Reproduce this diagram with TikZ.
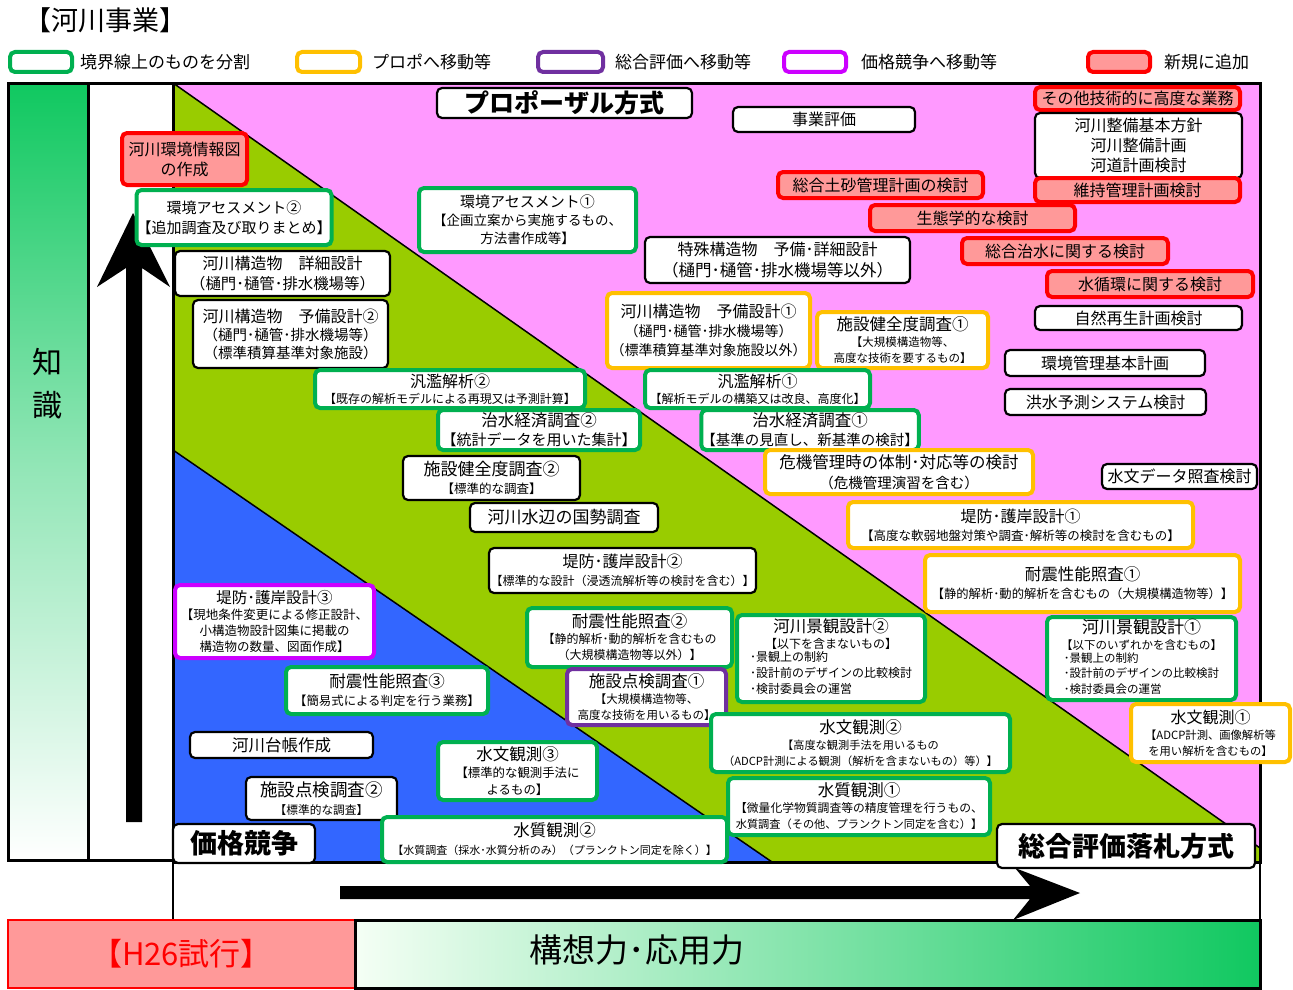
\documentclass[tikz,border=0pt]{standalone}
\usepackage{fontspec}
\setmainfont{Noto Sans CJK JP}
\definecolor{cpink}{RGB}{255,153,255}
\definecolor{cgreentri}{RGB}{153,204,0}
\definecolor{cblue}{RGB}{51,102,255}
\definecolor{cgreen}{RGB}{0,176,80}
\definecolor{corange}{RGB}{255,192,0}
\definecolor{cpurple}{RGB}{112,48,160}
\definecolor{cmag}{RGB}{204,0,255}
\definecolor{cred}{RGB}{255,0,0}
\definecolor{cpinkred}{RGB}{255,153,153}
\definecolor{kgreen}{RGB}{16,200,96}
\newcommand\fz[1]{\fontsize{#1}{#1}\selectfont}
\tikzset{
  wh/.style 2 args={minimum width=#1, minimum height=#2},
  bbox/.style={draw=black, line width=2.2pt, rounded corners=5pt, fill=white, inner sep=0pt, align=center,
    font=\fontsize{12}{16}\selectfont},
  gbox/.style={bbox, draw=cgreen, line width=4pt},
  obox/.style={bbox, draw=corange, line width=4pt},
  pbox/.style={bbox, draw=cpurple, line width=4pt},
  mbox/.style={bbox, draw=cmag, line width=4pt},
  rbox/.style={bbox, draw=cred, line width=4pt, fill=cpinkred},
  legtext/.style={anchor=west, inner sep=0pt, font=\fz{17}},
  frameline/.style={draw=black, line width=3pt},
}
\begin{document}
\begin{tikzpicture}[x=1pt,y=-1pt]
\useasboundingbox (0,0) rectangle (1293,990);
\fill[white] (0,0) rectangle (1293,990);
% title
\node[anchor=west, inner sep=0pt] (title) at (24,20) {\fz{27}【河川事業】};
% legend
\node[gbox, wh={62}{20}] (lg1) at (41,62) {};
\node[legtext] (lt1) at (80,62) {境界線上のものを分割};
\node[obox, wh={63}{20}] (lg2) at (328.5,62) {};
\node[legtext] (lt2) at (372,62) {プロポへ移動等};
\node[pbox, wh={65}{20}] (lg3) at (570.5,62) {};
\node[legtext] (lt3) at (615,62) {総合評価へ移動等};
\node[mbox, wh={62}{20}] (lg4) at (815,62) {};
\node[legtext] (lt4) at (861,62) {価格競争へ移動等};
\node[rbox, wh={62}{20}] (lg5) at (1119,62) {};
\node[legtext] (lt5) at (1164,62) {新規に追加};
% background regions
\fill[cpink] (173,83) rectangle (1260,862);
\fill[cgreentri] (173,83) -- (1260,848) -- (1260,862) -- (173,862) -- cycle;
\fill[cblue] (173,450) -- (772,862) -- (173,862) -- cycle;
\draw[line width=1.5pt] (173,83) -- (1260,848);
\draw[line width=1.5pt] (173,450) -- (772,862);
% left columns
\shade[top color=kgreen, bottom color=white, middle color=kgreen!45] (8,83) rectangle (88,860);
\draw[frameline] (8,83) rectangle (88,860);
\draw[frameline] (88,83) rectangle (173,860);
\draw[frameline] (8,83) -- (1260,83) -- (1260,862) -- (173,862);
\draw[frameline] (173,83) -- (173,862);
\node[inner sep=0pt] (chi) at (47,362) {\fz{30}知};
\node[inner sep=0pt] (shiki) at (47,405) {\fz{30}識};
% up arrow
\fill[black] (126,822) -- (126,268) -- (97,287) -- (133,213) -- (170,287) -- (142,268) -- (142,822) -- cycle;
% lower white strip
\draw[line width=2pt] (173,862) -- (173,920);
\draw[line width=2pt] (1260,862) -- (1260,920);
% right arrow
\fill[black] (340,886) -- (1030,886) -- (1015,868) -- (1080,893) -- (1013,920) -- (1030,899) -- (340,899) -- cycle;
% bottom bar
\node[draw=cred, line width=2pt, fill=cpinkred, wh={347}{68}, inner sep=0pt, text=cred] (h26) at (181.5,954) {\fz{31}【H26試行】};
\shade[left color=green!4, right color=kgreen] (355,920) rectangle (1260,988);
\draw[frameline] (355,920) rectangle (1260,988);
\node[inner sep=0pt] (koso) at (637,950) {\fz{33}構想力･応用力};

% boxes
\node[bbox, wh={255}{30}] (prop) at (564.5,103) {\fz{25}\bfseries プロポーザル方式};
\node[bbox, wh={182}{25}] (jigyo) at (824,119.5) {\fz{16}事業評価};
\node[rbox, wh={205}{23}] (sonota) at (1137.5,98.5) {\fz{16}その他技術的に高度な業務};
\node[bbox, wh={207}{65}, font=\fontsize{16}{20}\selectfont] (seibi) at (1138.5,145.5) {河川整備基本方針\\河川整備計画\\河道計画検討};
\node[rbox, wh={205}{24}] (iji) at (1137.5,190) {\fz{16}維持管理計画検討};
\node[rbox, wh={205}{26}] (dosha) at (880.5,185) {\fz{16}総合土砂管理計画の検討};
\node[rbox, wh={205}{26}] (seitai) at (972.5,218) {\fz{16}生態学的な検討};
\node[rbox, wh={206}{26}] (chisuik) at (1065,251) {\fz{16}総合治水に関する検討};
\node[rbox, wh={206}{26}] (junkan) at (1150,284) {\fz{16}水循環に関する検討};
\node[bbox, wh={207}{24}] (shizen) at (1138.5,318) {\fz{16}自然再生計画検討};
\node[bbox, wh={200}{26}] (kankyo) at (1105,363) {\fz{16}環境管理基本計画};
\node[bbox, wh={201}{26}] (kozui) at (1105.5,402) {\fz{16}洪水予測システム検討};
\node[bbox, wh={155}{25}] (suimond) at (1179.5,476.5) {\fz{16}水文データ照査検討};
\node[rbox, wh={125}{52}, font=\fontsize{16}{20}\selectfont] (johozu) at (184.5,159) {河川環境情報図\\の作成};
\node[gbox, wh={188}{55}, font=\fontsize{15}{20}\selectfont] (ea2) at (234,217.5) {環境アセスメント②\\【追加調査及び取りまとめ】};
\node[gbox, wh={217}{64}, font=\fontsize{13.5}{18}\selectfont] (ea1) at (527.5,220) {{\fz{15}環境アセスメント①}\\【企画立案から実施するもの、\\方法書作成等】};
\node[bbox, wh={215}{45}, font=\fontsize{15.4}{20}\selectfont] (shosai) at (282.5,273.5) {{\fz{16}河川構造物　詳細設計}\\（樋門･樋管･排水機場等）};
\node[bbox, wh={195}{68}, font=\fontsize{14.5}{18}\selectfont] (yobi2) at (290.5,334) {{\fz{16}河川構造物　予備設計②}\\（樋門･樋管･排水機場等）\\（標準積算基準対象施設）};
\node[bbox, wh={265}{46}, font=\fontsize{16.5}{21}\selectfont] (tokushu) at (777.5,260) {{\fz{16}特殊構造物　予備･詳細設計}\\（樋門･樋管･排水機場等以外）};
\node[obox, wh={203}{75}, font=\fontsize{14}{19}\selectfont] (yobi1) at (708.5,330.5) {{\fz{16}河川構造物　予備設計①}\\（樋門･樋管･排水機場等）\\（標準積算基準対象施設以外）};
\node[obox, wh={171}{56}, font=\fontsize{11.5}{16}\selectfont] (kenzen1) at (902.5,340) {{\fz{16.5}施設健全度調査①}\\【大規模構造物等、\\高度な技術を要するもの】};
\node[gbox, wh={270}{38}] (hanran2) at (450,389) {{\fz{16}汎濫解析②}\\【既存の解析モデルによる再現又は予測計算】};
\node[gbox, wh={225}{38}] (hanran1) at (757.5,389) {{\fz{16}汎濫解析①}\\【解析モデルの構築又は改良、高度化】};
\node[gbox, wh={202}{40}, font=\fontsize{15}{19}\selectfont] (chisui2) at (539,430) {{\fz{16.5}治水経済調査②}\\【統計データを用いた集計】};
\node[gbox, wh={214}{40}, font=\fontsize{14.5}{19}\selectfont] (chisui1) at (810,430) {{\fz{16.5}治水経済調査①}\\【基準の見直し、新基準の検討】};
\node[bbox, wh={177}{44}, font=\fontsize{12.5}{18}\selectfont] (kenzen2) at (491.5,478) {{\fz{17}施設健全度調査②}\\【標準的な調査】};
\node[obox, wh={268}{44}, font=\fontsize{14.5}{20}\selectfont] (kiki) at (899,472) {{\fz{16.5}危機管理時の体制･対応等の検討}\\（危機管理演習を含む）};
\node[bbox, wh={188}{29}] (mizube) at (564,517.5) {\fz{17}河川水辺の国勢調査};
\node[obox, wh={345}{46}, font=\fontsize{12.5}{18}\selectfont] (teibo1) at (1020.5,525) {{\fz{16}堤防･護岸設計①}\\【高度な軟弱地盤対策や調査･解析等の検討を含むもの】};
\node[bbox, wh={267}{45}, font=\fontsize{12}{18}\selectfont] (teibo2) at (622.5,570.5) {{\fz{16}堤防･護岸設計②}\\【標準的な設計（浸透流解析等の検討を含む）】};
\node[obox, wh={315}{57}, font=\fontsize{12.3}{18}\selectfont] (taishin1) at (1082.5,583.5) {{\fz{16.5}耐震性能照査①}\\【静的解析･動的解析を含むもの（大規模構造物等）】};
\node[mbox, wh={199}{73}, font=\fontsize{12.5}{16}\selectfont] (teibo3) at (274.5,621.5) {{\fz{15.5}堤防･護岸設計③}\\【現地条件変更による修正設計、\\小構造物設計図集に掲載の\\構造物の数量、図面作成】};
\node[gbox, wh={205}{59}, font=\fontsize{12}{16}\selectfont] (taishin2) at (629.5,637.5) {{\fz{16.5}耐震性能照査②}\\【静的解析･動的解析を含むもの\\（大規模構造物等以外）】};
\node[gbox, wh={188}{87}, font=\fontsize{12}{16}\selectfont] (keikan2) at (831,658.5) {{\fz{16.5}河川景観設計②}\\【以下を含まないもの】\\\begin{tabular}{@{}l@{}}･景観上の制約\\･設計前のデザインの比較検討\\･検討委員会の運営\end{tabular}};
\node[gbox, wh={189}{83}, font=\fontsize{11.5}{15.5}\selectfont] (keikan1) at (1141.5,658.5) {{\fz{17}河川景観設計①}\\【以下のいずれかを含むもの】\\\begin{tabular}{@{}l@{}}･景観上の制約\\･設計前のデザインの比較検討\\･検討委員会の運営\end{tabular}};
\node[pbox, wh={159}{56}, font=\fontsize{11.5}{16}\selectfont] (tenken1) at (646.5,697) {{\fz{16.5}施設点検調査①}\\【大規模構造物等、\\高度な技術を用いるもの】};
\node[gbox, wh={202}{47}, font=\fontsize{12.4}{18}\selectfont] (taishin3) at (387,690.5) {{\fz{16.5}耐震性能照査③}\\【簡易式による判定を行う業務】};
\node[gbox, wh={299}{58}, font=\fontsize{11.2}{16}\selectfont] (suimon2) at (860.5,743) {{\fz{16.5}水文観測②}\\【高度な観測手法を用いるもの\\（ADCP計測による観測（解析を含まないもの）等）】};
\node[obox, wh={159}{58}, font=\fontsize{11.3}{16}\selectfont] (suimon1) at (1210.5,733) {{\fz{16}水文観測①}\\【ADCP計測、画像解析等\\を用い解析を含むもの】};
\node[bbox, wh={183}{26}] (daicho) at (281.5,745) {\fz{16.5}河川台帳作成};
\node[gbox, wh={159}{58}, font=\fontsize{12.4}{17}\selectfont] (suimon3) at (517.5,771) {{\fz{16.5}水文観測③}\\【標準的な観測手法に\\よるもの】};
\node[bbox, wh={151}{43}, font=\fontsize{11.7}{18}\selectfont] (tenken2) at (321.5,798.5) {{\fz{17.5}施設点検調査②}\\【標準的な調査】};
\node[gbox, wh={262}{57}, font=\fontsize{11.8}{16}\selectfont] (suishitsu1) at (859,806.5) {{\fz{16.5}水質観測①}\\【微量化学物質調査等の精度管理を行うもの、\\{\fontsize{11.2}{16}\selectfont 水質調査（その他、プランクトン同定を含む）】}};
\node[gbox, wh={345}{45}, font=\fontsize{11}{18}\selectfont] (suishitsu2) at (554.5,839.5) {{\fz{16.5}水質観測②}\\【水質調査（採水･水質分析のみ）（プランクトン同定を除く）】};
\node[bbox, wh={142}{39}] (kakaku) at (244,843.5) {\fz{27}\bfseries 価格競争};
\node[bbox, wh={258}{44}] (sogo) at (1126,846) {\fz{27}\bfseries 総合評価落札方式};
\end{tikzpicture}
\end{document}
